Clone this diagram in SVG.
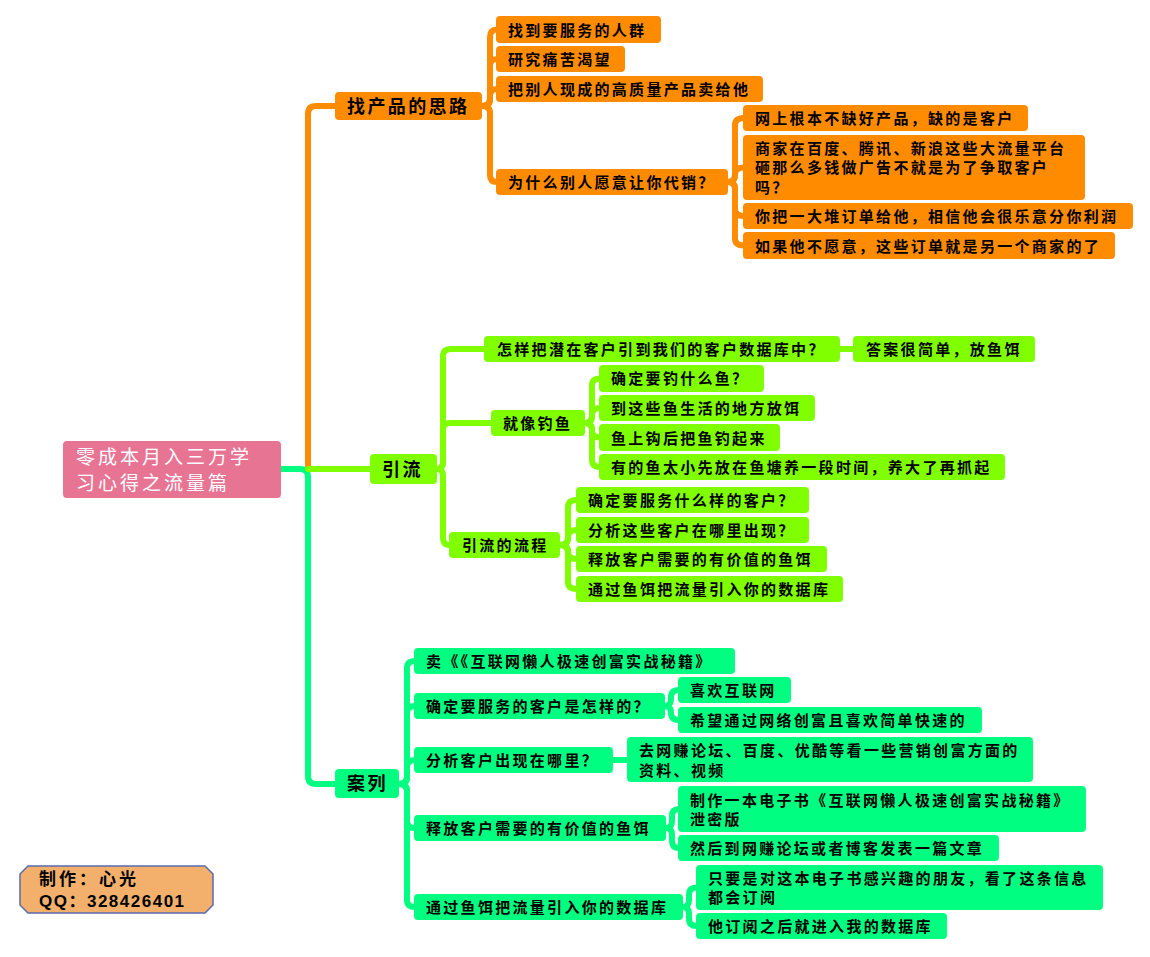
<svg xmlns="http://www.w3.org/2000/svg" width="1150" height="957" viewBox="0 0 1150 957">
<style>
.bg{fill:#ffffff}
.o rect{fill:#FF8C00}
.y rect{fill:#80FF00}
.g rect{fill:#00FF80}
.node rect{rx:4;ry:4}
.node text{font-family:"Noto Sans CJK SC","Liberation Sans",sans-serif;font-weight:bold;font-size:15px;letter-spacing:2.3px;fill:#000}
.node text.big{font-size:18px;letter-spacing:2.4px}
.co{fill:none;stroke:#FF8C00;stroke-width:6;stroke-linecap:round;stroke-linejoin:round}
.cy{fill:none;stroke:#80FF00;stroke-width:6;stroke-linecap:round;stroke-linejoin:round}
.cg{fill:none;stroke:#00FF80;stroke-width:6;stroke-linecap:round;stroke-linejoin:round}
#root rect{fill:#E87494}
#root text{font-family:"Noto Sans CJK SC","Liberation Sans",sans-serif;font-size:19px;letter-spacing:3px;fill:#ffffff}
#footer polygon{fill:#F2B06C;stroke:#5B6BAE;stroke-width:1.5}
#footer text{font-family:"Liberation Sans","Noto Sans CJK SC",sans-serif;font-weight:bold;font-size:17px;fill:#000}
</style>
<rect class="bg" x="0" y="0" width="1150" height="957"/>
<g id="connectors">
  <path class="co" d="M308,469 V114 Q308,106 316,106 H336"/>
  <path class="cg" d="M281,469 H300 Q308,469 308,477 V776 Q308,784 316,784 H336"/>
  <path class="cy" d="M308,469 H371"/>
  <path class="co" d="M482,106 Q490,106 490,99 V37 Q490,29.5 497,29.5"/>
  <path class="co" d="M482,106 Q490,106 490,99 V66 Q490,59 497,59"/>
  <path class="co" d="M482,106 Q490,106 490,99 V96 Q490,89 497,89"/>
  <path class="co" d="M482,106 Q490,106 490,113 V175 Q490,182 497,182"/>
  <path class="co" d="M728,182 Q735,182 735,175 V125 Q735,118 744,118"/>
  <path class="co" d="M728,182 Q735,182 735,175 V174.5 Q735,167.5 744,167.5"/>
  <path class="co" d="M728,182 Q735,182 735,189 V209 Q735,216 744,216"/>
  <path class="co" d="M728,182 Q735,182 735,189 V238.5 Q735,245.5 744,245.5"/>
  <path class="cy" d="M437,469 Q443,469 443,462 V356 Q443,349 451,349 H486"/>
  <path class="cy" d="M437,469 Q443,469 443,462 V430 Q443,423 450,423 H492"/>
  <path class="cy" d="M437,469 Q443,469 443,476 V538 Q443,545 450,545"/>
  <path class="cy" d="M840,349 H854"/>
  <path class="cy" d="M585,423 Q592,423 592,416 V385.5 Q592,378.5 600,378.5"/>
  <path class="cy" d="M585,423 Q592,423 592,416 V415 Q592,408 600,408"/>
  <path class="cy" d="M585,423 Q592,423 592,430 V430.5 Q592,437.5 600,437.5"/>
  <path class="cy" d="M585,423 Q592,423 592,430 V460 Q592,467 600,467"/>
  <path class="cy" d="M560,545 Q568,545 568,538 V507 Q568,500 577,500"/>
  <path class="cy" d="M560,545 Q568,545 568,538 V537 Q568,530 577,530"/>
  <path class="cy" d="M560,545 Q568,545 568,552 Q568,559 577,559"/>
  <path class="cy" d="M560,545 Q568,545 568,552 V582 Q568,589 577,589"/>
  <path class="cg" d="M399,784 Q407,784 407,777 V668 Q407,661 415,661"/>
  <path class="cg" d="M399,784 Q407,784 407,777 V713 Q407,706 415,706"/>
  <path class="cg" d="M399,784 Q407,784 407,777 V767 Q407,760 415,760"/>
  <path class="cg" d="M399,784 Q407,784 407,791 V821 Q407,828 415,828"/>
  <path class="cg" d="M399,784 Q407,784 407,791 V900 Q407,907 415,907"/>
  <path class="cg" d="M665,706 Q671,706 671,699 V697 Q671,690 679,690"/>
  <path class="cg" d="M665,706 Q671,706 671,713 Q671,720 679,720"/>
  <path class="cg" d="M613,760 H628"/>
  <path class="cg" d="M666,828 Q672,828 672,821 V816 Q672,809 679,809"/>
  <path class="cg" d="M666,828 Q672,828 672,835 V841 Q672,848 679,848"/>
  <path class="cg" d="M683,907 Q689,907 689,900 V894.5 Q689,887.5 697,887.5"/>
  <path class="cg" d="M683,907 Q689,907 689,914 V919 Q689,926 697,926"/>
</g>
<g id="root"><rect x="63" y="441" width="218" height="57" rx="4"/><text x="76" y="464">零成本月入三万学</text><text x="76" y="490">习心得之流量篇</text></g>

<g id="n-zhao" class="node o"><rect x="335" y="92" width="147" height="28"/><text class="big" x="347" y="112.5">找产品的思路</text></g>
<g id="n-o1" class="node o"><rect x="496" y="16" width="165" height="27"/><text x="508" y="35.5">找到要服务的人群</text></g>
<g id="n-o2" class="node o"><rect x="496" y="46" width="129" height="26"/><text x="508" y="65">研究痛苦渴望</text></g>
<g id="n-o3" class="node o"><rect x="496" y="76" width="267" height="26"/><text x="508" y="95">把别人现成的高质量产品卖给他</text></g>
<g id="n-o4" class="node o"><rect x="496" y="169" width="232" height="26"/><text x="508" y="188">为什么别人愿意让你代销？</text></g>
<g id="n-o5" class="node o"><rect x="743" y="105" width="285" height="26"/><text x="755" y="124">网上根本不缺好产品，缺的是客户</text></g>
<g id="n-o6" class="node o"><rect x="743" y="135" width="342" height="65"/><text x="755" y="153.5">商家在百度、腾讯、新浪这些大流量平台</text><text x="755" y="173">砸那么多钱做广告不就是为了争取客户</text><text x="755" y="192.5">吗？</text></g>
<g id="n-o7" class="node o"><rect x="743" y="203" width="390" height="26"/><text x="755" y="222">你把一大堆订单给他，相信他会很乐意分你利润</text></g>
<g id="n-o8" class="node o"><rect x="743" y="232" width="372" height="27"/><text x="755" y="251.5">如果他不愿意，这些订单就是另一个商家的了</text></g>

<g id="n-yinliu" class="node y"><rect x="370" y="454" width="67" height="30"/><text class="big" x="382" y="475.5">引流</text></g>
<g id="n-y1" class="node y"><rect x="484" y="336" width="356" height="26"/><text x="497" y="355">怎样把潜在客户引到我们的客户数据库中？</text></g>
<g id="n-y2" class="node y"><rect x="853" y="336" width="182" height="26"/><text x="866" y="355">答案很简单，放鱼饵</text></g>
<g id="n-y3" class="node y"><rect x="491" y="410" width="94" height="26"/><text x="503" y="429">就像钓鱼</text></g>
<g id="n-y4" class="node y"><rect x="599" y="365" width="165" height="27"/><text x="611" y="384">确定要钓什么鱼？</text></g>
<g id="n-y5" class="node y"><rect x="599" y="395" width="216" height="26"/><text x="611" y="414">到这些鱼生活的地方放饵</text></g>
<g id="n-y6" class="node y"><rect x="599" y="424" width="181" height="27"/><text x="611" y="443.5">鱼上钩后把鱼钓起来</text></g>
<g id="n-y7" class="node y"><rect x="599" y="454" width="406" height="26"/><text x="611" y="473">有的鱼太小先放在鱼塘养一段时间，养大了再抓起</text></g>
<g id="n-y8" class="node y"><rect x="449" y="532" width="111" height="26"/><text x="462" y="551">引流的流程</text></g>
<g id="n-y9" class="node y"><rect x="576" y="487" width="233" height="26"/><text x="588" y="506">确定要服务什么样的客户？</text></g>
<g id="n-y10" class="node y"><rect x="576" y="517" width="233" height="26"/><text x="588" y="536">分析这些客户在哪里出现？</text></g>
<g id="n-y11" class="node y"><rect x="576" y="546" width="251" height="26"/><text x="588" y="565">释放客户需要的有价值的鱼饵</text></g>
<g id="n-y12" class="node y"><rect x="576" y="576" width="267" height="26"/><text x="588" y="595">通过鱼饵把流量引入你的数据库</text></g>

<g id="n-anli" class="node g"><rect x="335" y="769" width="64" height="29"/><text class="big" x="347" y="790">案列</text></g>
<g id="n-g1" class="node g"><rect x="414" y="648" width="321" height="26"/><text x="426" y="667">卖《《互联网懒人极速创富实战秘籍》</text></g>
<g id="n-g2" class="node g"><rect x="414" y="693" width="251" height="26"/><text x="426" y="712">确定要服务的客户是怎样的？</text></g>
<g id="n-g3" class="node g"><rect x="678" y="677" width="113" height="26"/><text x="690" y="696">喜欢互联网</text></g>
<g id="n-g4" class="node g"><rect x="678" y="707" width="304" height="26"/><text x="690" y="726">希望通过网络创富且喜欢简单快速的</text></g>
<g id="n-g5" class="node g"><rect x="414" y="747" width="199" height="26"/><text x="426" y="766">分析客户出现在哪里？</text></g>
<g id="n-g6" class="node g"><rect x="627" y="737" width="406" height="45"/><text x="639" y="755.5">去网赚论坛、百度、优酷等看一些营销创富方面的</text><text x="639" y="775.5">资料、视频</text></g>
<g id="n-g7" class="node g"><rect x="414" y="815" width="252" height="26"/><text x="426" y="834">释放客户需要的有价值的鱼饵</text></g>
<g id="n-g8" class="node g"><rect x="678" y="786" width="408" height="46"/><text x="690" y="805.5">制作一本电子书《互联网懒人极速创富实战秘籍》</text><text x="690" y="824.5">泄密版</text></g>
<g id="n-g9" class="node g"><rect x="678" y="835" width="321" height="26"/><text x="690" y="854">然后到网赚论坛或者博客发表一篇文章</text></g>
<g id="n-g10" class="node g"><rect x="414" y="894" width="269" height="26"/><text x="426" y="913">通过鱼饵把流量引入你的数据库</text></g>
<g id="n-g11" class="node g"><rect x="696" y="865" width="407" height="45"/><text x="708" y="883.5">只要是对这本电子书感兴趣的朋友，看了这条信息</text><text x="708" y="902.5">都会订阅</text></g>
<g id="n-g12" class="node g"><rect x="696" y="913" width="251" height="26"/><text x="708" y="932">他订阅之后就进入我的数据库</text></g>

<g id="footer"><polygon points="28,866 205,866 213,874 213,905 205,913 28,913 20,905 20,874"/><text x="39" y="885" style="letter-spacing:3px">制作：心光</text><text x="39" y="907" style="letter-spacing:1.5px">QQ：328426401</text></g>
</svg>
